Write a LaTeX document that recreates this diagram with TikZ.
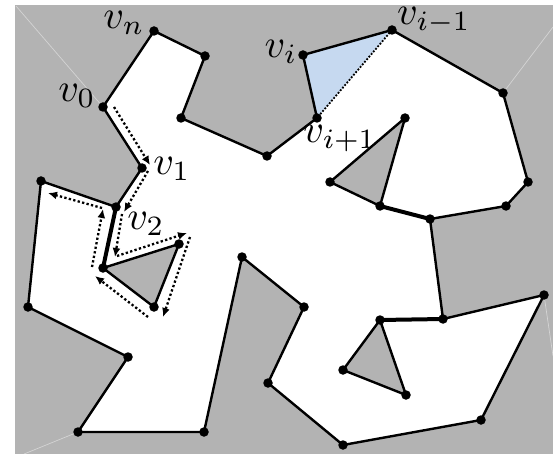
\documentclass[tikz,border=0pt]{standalone}
\usetikzlibrary{arrows.meta}
\definecolor{bggray}{RGB}{179,179,179}
\definecolor{pocketblue}{RGB}{198,217,240}
\definecolor{faint}{RGB}{212,212,212}
\begin{document}
\begin{tikzpicture}[x=1pt,y=-1pt,
  edge/.style={line width=2.4pt,line join=round},
  bridge/.style={line width=4pt},
  vdot/.style={circle,fill=black,inner sep=0pt,minimum size=9.5pt},
  walk/.style={line width=2.3pt,dash pattern=on 2.3pt off 2.3pt,-{Latex[length=9pt,width=8pt]}},
  chord/.style={line width=1.8pt,dash pattern=on 1.8pt off 1.6pt},
  vlabel/.style={inner sep=0pt,scale=4},
  faintline/.style={faint,line width=0.7pt}]
\useasboundingbox (0,0) rectangle (553,454);
\fill[white] (0,0) rectangle (553,454);
\fill[bggray] (15,5) rectangle (553,454);
% outer boundary vertices
\coordinate (vn) at (154,31);
\coordinate (a1) at (205,56);
\coordinate (a2) at (181,118);
\coordinate (a3) at (267,156);
\coordinate (vip) at (317,118);
\coordinate (vi) at (303,55);
\coordinate (vim) at (392,30);
\coordinate (a4) at (503,93);
\coordinate (a5) at (528,182);
\coordinate (a6) at (506,206);
\coordinate (a7) at (430,219);
\coordinate (a8) at (443,319);
\coordinate (a9) at (544,295);
\coordinate (a10) at (481,420);
\coordinate (a11) at (343,445);
\coordinate (a12) at (268,383);
\coordinate (a13) at (304,307);
\coordinate (a14) at (242,257);
\coordinate (a15) at (204,432);
\coordinate (a16) at (78,432);
\coordinate (a17) at (128,357);
\coordinate (a18) at (28,307);
\coordinate (a19) at (41,181);
\coordinate (v2) at (116,207);
\coordinate (v1) at (142,168);
\coordinate (v0) at (103,107);
% holes
\coordinate (p1) at (405,118);
\coordinate (p2) at (330,182);
\coordinate (p3) at (380,206);
\coordinate (q1) at (103,268);
\coordinate (q2) at (179,244);
\coordinate (q3) at (154,307);
\coordinate (r1) at (380,320);
\coordinate (r2) at (343,370);
\coordinate (r3) at (406,395);
% faint lines
\coordinate (f1) at (16,6);
\coordinate (f2) at (553,27);
\coordinate (f3) at (553,356);
\coordinate (f4) at (24,454);
\draw[faintline] (f1) -- (v0);
\draw[faintline] (f2) -- (a4);
\draw[faintline] (a9) -- (f3);
\draw[faintline] (a16) -- (f4);
% polygon
\fill[white] (vn) -- (a1) -- (a2) -- (a3) -- (vip) -- (vi) -- (vim) -- (a4) -- (a5) -- (a6) -- (a7) -- (a8) -- (a9) -- (a10) -- (a11) -- (a12) -- (a13) -- (a14) -- (a15) -- (a16) -- (a17) -- (a18) -- (a19) -- (v2) -- (v1) -- (v0) -- cycle;
\fill[pocketblue] (vip) -- (vi) -- (vim) -- cycle;
\fill[bggray] (p1) -- (p2) -- (p3) -- cycle;
\fill[bggray] (q1) -- (q2) -- (q3) -- cycle;
\fill[bggray] (r1) -- (r2) -- (r3) -- cycle;
\draw[edge] (vn) -- (a1) -- (a2) -- (a3) -- (vip) -- (vi) -- (vim) -- (a4) -- (a5) -- (a6) -- (a7) -- (a8) -- (a9) -- (a10) -- (a11) -- (a12) -- (a13) -- (a14) -- (a15) -- (a16) -- (a17) -- (a18) -- (a19) -- (v2) -- (v1) -- (v0) -- cycle;
\draw[edge] (p1) -- (p2) -- (p3) -- cycle;
\draw[edge] (q1) -- (q2) -- (q3) -- cycle;
\draw[edge] (r1) -- (r2) -- (r3) -- cycle;
\draw[bridge] (p3) -- (a7);
\draw[bridge] (v2) -- (q1);
\draw[bridge] (r1) -- (a8);
\draw[chord] (vim) -- (vip);
% walk arrows
\coordinate (w1s) at (114,107); \coordinate (w1e) at (150,165);
\coordinate (w2s) at (148,171); \coordinate (w2e) at (124,212);
\coordinate (w3s) at (122,214); \coordinate (w3e) at (115,257);
\coordinate (w4s) at (117,256); \coordinate (w4e) at (187,233);
\coordinate (w5s) at (190,237); \coordinate (w5e) at (163,317);
\coordinate (w6s) at (148,317); \coordinate (w6e) at (95,276);
\coordinate (w7s) at (92,267); \coordinate (w7e) at (103,209);
\coordinate (w8s) at (102,208); \coordinate (w8e) at (48,193);
\draw[walk] (w1s) -- (w1e);
\draw[walk] (w2s) -- (w2e);
\draw[walk] (w3s) -- (w3e);
\draw[walk] (w4s) -- (w4e);
\draw[walk] (w5s) -- (w5e);
\draw[walk] (w6s) -- (w6e);
\draw[walk] (w7s) -- (w7e);
\draw[walk] (w8s) -- (w8e);
% vertex dots
\foreach \c in {vn,a1,a2,a3,vip,vi,vim,a4,a5,a6,a7,a8,a9,a10,a11,a12,a13,a14,a15,a16,a17,a18,a19,v2,v1,v0,p1,p2,p3,q1,q2,q3,r1,r2,r3}
  \node[vdot] (d\c) at (\c) {};
% labels
\node[vlabel] (lvn) at (124,23) {$v_n$};
\node[vlabel] (lv0) at (77,96) {$v_0$};
\node[vlabel] (lv1) at (172,169) {$v_1$};
\node[vlabel] (lv2) at (146,224) {$v_2$};
\node[vlabel] (lvi) at (281,52) {$v_i$};
\node[vlabel] (lvim) at (434,21) {$v_{i-1}$};
\node[vlabel] (lvip) at (340,139) {$v_{i+1}$};
\end{tikzpicture}
\end{document}
